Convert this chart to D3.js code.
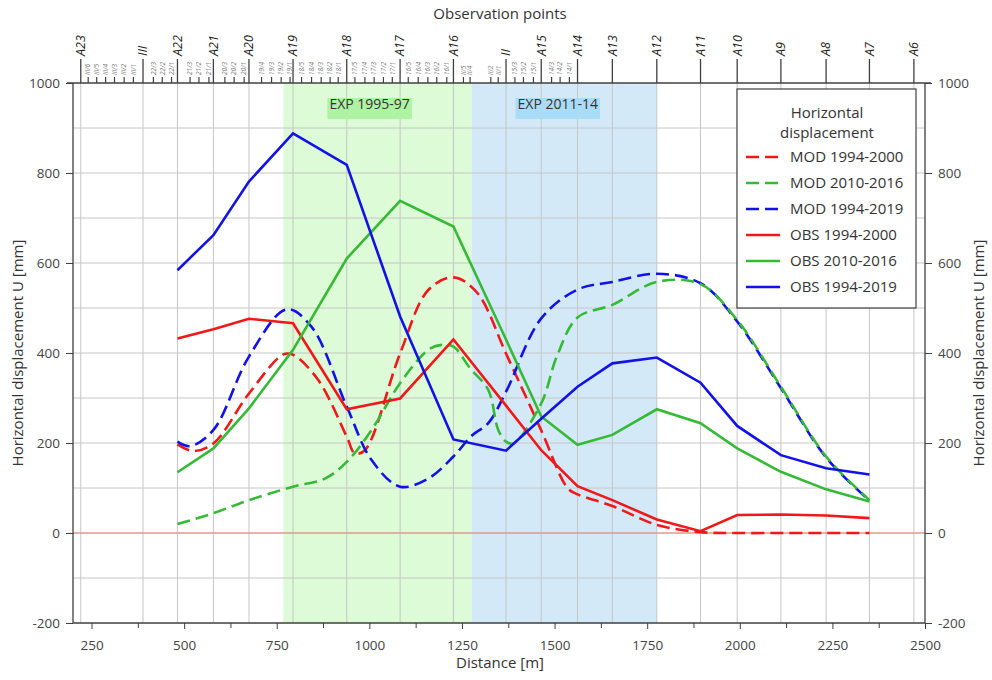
<!DOCTYPE html>
<html>
<head>
<meta charset="utf-8">
<script src="https://cdn.jsdelivr.net/npm/d3@7"></script>
<style>
  body { margin: 0; background: #fff; }
  text { font-family: "Open Sans", "Noto Sans", sans-serif; fill: #333; }
</style>
</head>
<body>
<div id="chart"></div>
<script>
// Observation points along the profile (top axis)
const obsNames = ['A23', 'III', 'A22', 'A21', 'A20', 'A19', 'A18', 'A17', 'A16', 'II', 'A15', 'A14', 'A13', 'A12', 'A11', 'A10', 'A9', 'A8', 'A7', 'A6'];
const obsDist = [221, 389, 482, 579, 675, 794, 939, 1083, 1227, 1369, 1464, 1562, 1656, 1776, 1894, 1993, 2111, 2233, 2350, 2470];

// Secondary points (small labels)
const subNames = ['III/6', 'III/5', 'III/4', 'III/3', 'III/2', 'III/1',
  '22/3', '22/2', '22/1', '21/3', '21/2', '21/1', '20/3', '20/2', '20/1',
  '19/4', '19/3', '19/2', '19/1', '18/5', '18/4', '18/3', '18/2', '18/1',
  '17/5', '17/4', '17/3', '17/2', '17/1', '16/5', '16/4', '16/3', '16/2', '16/1',
  'II/5', 'II/4', 'II/2', 'II/1', '15/3', '15/2', '15/1', '14/3', '14/2', '14/1'];
const subDist = [241, 264, 288, 312, 338, 363,
  417, 441, 466, 516, 540, 567, 610, 635, 662,
  709, 736, 762, 786, 817, 844, 870, 894, 916,
  961, 988, 1013, 1038, 1062, 1105, 1132, 1158, 1182, 1209,
  1254, 1272, 1328, 1348, 1393, 1416, 1443, 1492, 1515, 1540];

// Experiment periods (shaded bands)
const bandNames = ['EXP 1995-97', 'EXP 2011-14'];
const bandFrom = [768, 1276];
const bandTo = [1276, 1776];

// Observed displacement [mm]
const obsX = [482, 579, 675, 794, 939, 1083, 1227, 1369, 1464, 1562, 1656, 1776, 1894, 1993, 2111, 2233, 2350];
const obs1994_2000 = [432, 453, 476, 466, 275, 299, 430, 283, 184, 104, 73, 30, 4, 40, 41, 39, 33];
const obs2010_2016 = [135, 188, 277, 407, 610, 738, 681, 430, 259, 196, 218, 275, 244, 188, 136, 97, 70];
const obs1994_2019 = [584, 662, 781, 888, 818, 481, 208, 183, 254, 325, 377, 390, 334, 238, 173, 144, 130];

// Modelled displacement [mm]
const modX1994_2000 = [482, 525, 579, 675, 768, 794, 862, 939, 961, 988, 1083, 1159, 1227, 1290, 1371, 1464, 1535, 1562, 1656, 1776, 1894, 1993, 2111, 2233, 2350];
const mod1994_2000 = [197, 182, 199, 310, 397, 396, 340, 214, 177, 184, 399, 540, 568, 535, 395, 228, 100, 86, 60, 18, 2, 0, 0, 0, 0];
const modX2010_2016 = [482, 579, 675, 794, 880, 939, 1006, 1083, 1159, 1195, 1227, 1272, 1321, 1348, 1369, 1389, 1464, 1506, 1562, 1656, 1776, 1894, 1993, 2111, 2233, 2350];
const mod2010_2016 = [20, 44, 73, 103, 121, 158, 229, 333, 407, 418, 414, 366, 318, 229, 203, 199, 288, 392, 479, 507, 558, 553, 473, 325, 170, 73];
const modX1994_2019 = [482, 516, 579, 675, 777, 844, 939, 1006, 1083, 1159, 1227, 1276, 1321, 1369, 1464, 1562, 1656, 1776, 1894, 1993, 2111, 2233, 2350];
const mod1994_2019 = [203, 193, 229, 392, 497, 458, 281, 162, 103, 121, 170, 216, 244, 314, 477, 541, 558, 576, 555, 470, 322, 168, 72];

const seriesNames = ['MOD 1994-2000', 'MOD 2010-2016', 'MOD 1994-2019', 'OBS 1994-2000', 'OBS 2010-2016', 'OBS 1994-2019'];

class DisplacementChart {

  constructor(_config) {
    this.config = {
      parentElement: _config.parentElement,
      containerWidth: _config.containerWidth || 992,
      containerHeight: _config.containerHeight || 680,
      margin: { top: 83, bottom: 57, right: 67, left: 73 }
    }
    this.initVis();
  }

  initVis() {
    let vis = this;
    const m = vis.config.margin;
    vis.width = vis.config.containerWidth - m.left - m.right;
    vis.height = vis.config.containerHeight - m.top - m.bottom;

    vis.svg = d3.select(vis.config.parentElement).append('svg')
      .attr('width', vis.config.containerWidth)
      .attr('height', vis.config.containerHeight);

    vis.xScale = d3.scaleLinear().domain([200, 2500]).range([0, vis.width]);
    vis.yScale = d3.scaleLinear().domain([-200, 1000]).range([vis.height, 0]);

    vis.chart = vis.svg.append('g')
      .attr('transform', `translate(${m.left}, ${m.top})`);

    // shaded experiment bands
    vis.chart.selectAll('.band')
      .data(bandNames)
      .join('rect')
      .attr('x', (d, i) => vis.xScale(bandFrom[i]))
      .attr('width', (d, i) => vis.xScale(bandTo[i]) - vis.xScale(bandFrom[i]))
      .attr('y', 0)
      .attr('height', vis.height)
      .style('fill', (d, i) => i === 0 ? '#dcfbd6' : '#d3e9f8');

    // grid
    vis.chart.append('g')
      .selectAll('line')
      .data(d3.range(-100, 1000, 100))
      .join('line')
      .attr('x1', 0).attr('x2', vis.width)
      .attr('y1', d => vis.yScale(d)).attr('y2', d => vis.yScale(d))
      .style('stroke', '#c6c6c6');

    vis.chart.append('g')
      .selectAll('line')
      .data(obsDist)
      .join('line')
      .attr('x1', d => vis.xScale(d)).attr('x2', d => vis.xScale(d))
      .attr('y1', 0).attr('y2', vis.height)
      .style('stroke', '#c6c6c6');

    // zero line
    vis.chart.append('line')
      .attr('x1', 0).attr('x2', vis.width)
      .attr('y1', vis.yScale(0)).attr('y2', vis.yScale(0))
      .style('stroke', '#f2806e');

    // band labels
    bandNames.forEach((name, i) => {
      const t = vis.chart.append('text')
        .attr('x', vis.xScale(bandFrom[i]) + 46)
        .attr('y', 26)
        .style('font-size', '14px')
        .text(name);
      const bb = t.node().getBBox();
      vis.chart.insert('rect', () => t.node())
        .attr('x', bb.x - 2).attr('y', 15)
        .attr('width', bb.width + 4).attr('height', 21)
        .style('fill', i === 0 ? '#aef3a2' : '#a9dcf6');
    });

    // axes (plain numbers, hyphen minus)
    vis.axisColor = '#404040';
    const fmt = d => String(d).replace('\u2212', '-');
    const xAxis = d3.axisBottom(vis.xScale).tickValues(d3.range(250, 2501, 250)).tickSize(6).tickPadding(11).tickFormat(fmt);
    const xMinor = d3.axisBottom(vis.xScale).tickValues(d3.range(375, 2500, 250)).tickSize(5).tickFormat('');
    const yLeft = d3.axisLeft(vis.yScale).tickValues(d3.range(-200, 1001, 200)).tickSize(7).tickPadding(6).tickFormat(fmt);
    const yRight = d3.axisRight(vis.yScale).tickValues(d3.range(-200, 1001, 200)).tickSize(7).tickPadding(6).tickFormat(fmt);

    const styleAxis = g => {
      g.select('.domain').remove();
      g.selectAll('line').style('stroke', vis.axisColor);
      g.selectAll('text').style('font-size', '13.5px').style('fill', '#444')
        .style('font-family', '"Open Sans", sans-serif');
    };

    vis.chart.append('g').attr('transform', `translate(0, ${vis.height})`).call(xAxis).call(styleAxis);
    vis.chart.append('g').attr('transform', `translate(0, ${vis.height})`).call(xMinor).call(styleAxis);
    vis.chart.append('g').call(yLeft).call(styleAxis);
    vis.chart.append('g').attr('transform', `translate(${vis.width}, 0)`).call(yRight).call(styleAxis);

    // frame lines (left, bottom, right, top)
    vis.chart.append('path')
      .attr('d', `M0,0V${vis.height}H${vis.width}V0`)
      .style('fill', 'none').style('stroke', vis.axisColor).style('stroke-width', 1.3);
    vis.chart.append('line')
      .attr('x1', -6).attr('x2', vis.width + 6).attr('y1', 0).attr('y2', 0)
      .style('stroke', vis.axisColor).style('stroke-width', 1.3);

    // top observation-point axis
    const top = vis.chart.append('g');
    top.selectAll('.major')
      .data(obsDist)
      .join('line')
      .attr('x1', d => vis.xScale(d)).attr('x2', d => vis.xScale(d))
      .attr('y1', 0).attr('y2', -24)
      .style('stroke', vis.axisColor).style('stroke-width', 1.3);
    top.selectAll('.majorLabel')
      .data(obsNames)
      .join('text')
      .attr('transform', (d, i) => `translate(${vis.xScale(obsDist[i])}, -27) rotate(-90)`)
      .attr('dy', '0.35em')
      .style('font-size', '12.5px')
      .style('font-style', 'italic')
      .style('fill', '#222')
      .text(d => d);
    top.selectAll('.minor')
      .data(subDist)
      .join('line')
      .attr('x1', d => vis.xScale(d)).attr('x2', d => vis.xScale(d))
      .attr('y1', 0).attr('y2', -6)
      .style('stroke', vis.axisColor).style('stroke-width', 1.2);
    top.selectAll('.minorLabel')
      .data(subNames)
      .join('text')
      .attr('transform', (d, i) => `translate(${vis.xScale(subDist[i])}, -8) rotate(-90)`)
      .attr('dy', '0.35em')
      .style('font-size', '6.5px')
      .style('font-style', 'italic')
      .style('fill', '#777')
      .text(d => d);

    // axis titles
    vis.svg.append('text')
      .attr('x', m.left + vis.width / 2 + 1).attr('y', 19)
      .attr('text-anchor', 'middle')
      .style('font-size', '15px')
      .text('Observation points');
    vis.svg.append('text')
      .attr('x', m.left + vis.width / 2 + 1).attr('y', 668)
      .attr('text-anchor', 'middle')
      .style('font-size', '15px')
      .text('Distance [m]');
    vis.svg.append('text')
      .attr('transform', `translate(23, ${m.top + vis.height / 2}) rotate(-90)`)
      .attr('text-anchor', 'middle')
      .style('font-size', '15px')
      .text('Horizontal displacement U [mm]');
    vis.svg.append('text')
      .attr('transform', `translate(984, ${m.top + vis.height / 2}) rotate(-90)`)
      .attr('text-anchor', 'middle')
      .style('font-size', '15px')
      .text('Horizontal displacement U [mm]');

    this.updateVis();
  }

  updateVis() {
    let vis = this;
    vis.colors = ['#f01818', '#36ba36', '#1212e8', '#f01818', '#36ba36', '#1212e8'];
    vis.series = [
      { name: seriesNames[0], x: modX1994_2000, y: mod1994_2000, dashed: true, color: vis.colors[0] },
      { name: seriesNames[2], x: modX1994_2019, y: mod1994_2019, dashed: true, color: vis.colors[2] },
      { name: seriesNames[1], x: modX2010_2016, y: mod2010_2016, dashed: true, color: vis.colors[1] },
      { name: seriesNames[3], x: obsX, y: obs1994_2000, dashed: false, color: vis.colors[3] },
      { name: seriesNames[4], x: obsX, y: obs2010_2016, dashed: false, color: vis.colors[4] },
      { name: seriesNames[5], x: obsX, y: obs1994_2019, dashed: false, color: vis.colors[5] }
    ];
    this.renderVis();
  }

  renderVis() {
    let vis = this;

    const smooth = d3.line().curve(d3.curveCatmullRom.alpha(0.5));
    const straight = d3.line();

    vis.chart.append('g')
      .selectAll('path')
      .data(vis.series)
      .join('path')
      .attr('d', s => {
        const pts = s.x.map((xv, i) => [vis.xScale(xv), vis.yScale(s.y[i])]);
        return s.dashed ? smooth(pts) : straight(pts);
      })
      .style('fill', 'none')
      .style('stroke', s => s.color)
      .style('stroke-width', 2.6)
      .style('stroke-dasharray', s => s.dashed ? '13,6' : null);

    // legend
    const lg = vis.svg.append('g').attr('transform', 'translate(737, 89)');
    lg.append('rect')
      .attr('width', 179).attr('height', 219)
      .style('fill', '#fff').style('stroke', vis.axisColor).style('stroke-width', 1.2);
    lg.append('text').attr('x', 90).attr('y', 29).attr('text-anchor', 'middle')
      .style('font-size', '15px').text('Horizontal');
    lg.append('text').attr('x', 90).attr('y', 49).attr('text-anchor', 'middle')
      .style('font-size', '15px').text('displacement');

    const rows = lg.selectAll('.row')
      .data(seriesNames)
      .join('g')
      .attr('transform', (d, i) => `translate(0, ${68 + i * 26})`);
    rows.append('line')
      .attr('x1', 9).attr('x2', 43)
      .style('stroke', (d, i) => vis.colors[i])
      .style('stroke-width', 2.6)
      .style('stroke-dasharray', (d, i) => i < 3 ? '13,6' : null);
    rows.append('text')
      .attr('x', 53).attr('dy', '0.35em')
      .style('font-size', '15px')
      .text(d => d);
  }
}

new DisplacementChart({ parentElement: '#chart' });
</script>
</body>
</html>
